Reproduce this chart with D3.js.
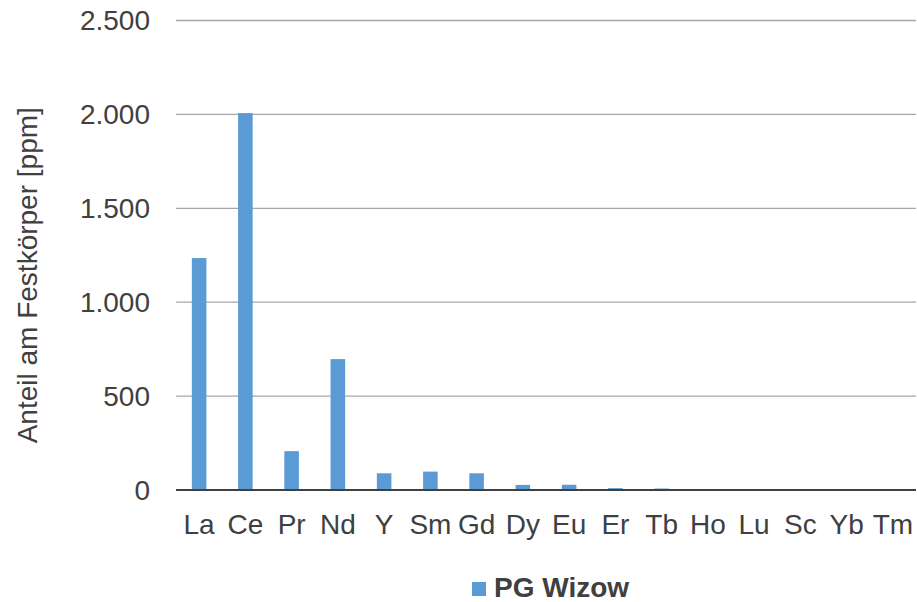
<!DOCTYPE html>
<html><head><meta charset="utf-8">
<script src="https://cdn.jsdelivr.net/npm/d3@7"></script>
<style>body{margin:0;background:#fff;} svg{display:block;font-family:"Liberation Sans",Arial,sans-serif;}</style>
</head><body>
<script>
const categories = ["La","Ce","Pr","Nd","Y","Sm","Gd","Dy","Eu","Er","Tb","Ho","Lu","Sc","Yb","Tm"];
const values = [1235, 2007, 207, 697, 89, 98, 89, 27, 28, 10, 8, 1, 1, 1, 1, 1];
const yTicks = [0, 500, 1000, 1500, 2000, 2500];
const seriesName = "PG Wizow";
const yTitle = "Anteil am Festkörper [ppm]";

const W = 917, H = 602;
const m = {left: 176, right: 1, top: 20.5, bottom: 112};
const svg = d3.select("body").append("svg").attr("width", W).attr("height", H);
const x = d3.scaleBand().domain(categories).range([m.left, W - m.right]).paddingInner(0.685).paddingOuter(0.3425);
const y = d3.scaleLinear().domain([0, 2500]).range([H - m.bottom, m.top]);

const fmt = v => d3.format(",")(v).replace(/,/g, ".");

svg.append("g").selectAll("line").data(yTicks.filter(t => t > 0)).join("line")
  .attr("x1", m.left).attr("x2", W - m.right)
  .attr("y1", d => y(d)).attr("y2", d => y(d))
  .attr("stroke", "#a6a6a6").attr("stroke-width", 1.3);

svg.append("g").selectAll("rect").data(values).join("rect")
  .attr("x", (d, i) => x(categories[i]))
  .attr("width", x.bandwidth())
  .attr("y", d => y(d))
  .attr("height", d => y(0) - y(d))
  .attr("fill", "#5b9bd5");

svg.append("line").attr("x1", m.left).attr("x2", W - m.right)
  .attr("y1", y(0)).attr("y2", y(0)).attr("stroke", "#404040").attr("stroke-width", 2);

svg.append("g").selectAll("text").data(yTicks).join("text")
  .attr("x", 150).attr("y", d => y(d)).attr("dy", "0.35em")
  .attr("text-anchor", "end").attr("font-size", 28).attr("fill", "#404040")
  .text(fmt);

svg.append("g").selectAll("text").data(categories).join("text")
  .attr("x", d => x(d) + x.bandwidth() / 2).attr("y", 534)
  .attr("text-anchor", "middle").attr("font-size", 28).attr("fill", "#404040")
  .text(d => d);

svg.append("text").attr("transform", `translate(37,${(y(0) + y(2500)) / 2 + 20}) rotate(-90)`)
  .attr("text-anchor", "middle").attr("font-size", 28).attr("fill", "#404040")
  .text(yTitle);

svg.append("rect").attr("x", 472).attr("y", 582).attr("width", 14).attr("height", 14).attr("fill", "#5b9bd5");
svg.append("text").attr("x", 494).attr("y", 597).attr("font-size", 28).attr("font-weight", "bold")
  .attr("fill", "#404040").text(seriesName);
</script>
</body></html>
